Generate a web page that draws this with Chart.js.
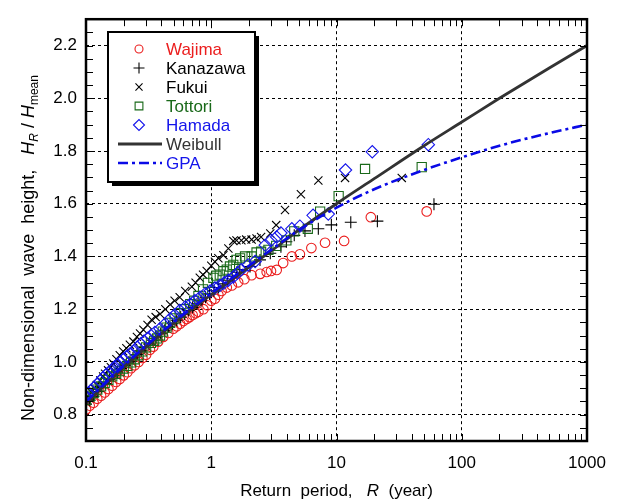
<!DOCTYPE html>
<html>
<head>
<meta charset="utf-8">
<script src="https://cdn.jsdelivr.net/npm/chart.js@4.4.0/dist/chart.umd.min.js"></script>
<style>
  html, body { margin: 0; padding: 0; background: #fff; }
</style>
</head>
<body>
<canvas id="chart" width="618" height="502"></canvas>
<script>
// tick labels
const xTicks = [0.1, 1, 10, 100, 1000];
const yTicks = [0.8, 1.0, 1.2, 1.4, 1.6, 1.8, 2.0, 2.2];

// [return period R (year), H_R / H_mean]
const wajima = [[0.1,0.82],[0.107,0.834],[0.115,0.845],[0.123,0.86],[0.132,0.872],[0.141,0.884],[0.151,0.897],[0.162,0.91],[0.174,0.924],[0.186,0.935],
  [0.2,0.949],[0.214,0.961],[0.229,0.976],[0.245,0.987],[0.263,1.0],[0.282,1.015],[0.302,1.027],[0.324,1.046],[0.345,1.058],[0.377,1.077],
  [0.414,1.095],[0.454,1.11],[0.498,1.126],[0.53,1.135],[0.564,1.145],[0.6,1.155],[0.636,1.163],[0.67,1.17],[0.71,1.178],[0.75,1.185],
  [0.79,1.19],[0.866,1.2],[0.93,1.215],[1.0,1.232],[1.07,1.24],[1.14,1.255],[1.21,1.269],[1.33,1.282],[1.46,1.29],[1.64,1.302],
  [1.84,1.314],[2.1,1.329],[2.46,1.334],[2.77,1.341],[3.0,1.345],[3.33,1.349],[3.75,1.375],[4.4,1.4],[5.1,1.408],[6.3,1.432],
  [8.1,1.452],[11.5,1.459],[18.8,1.549],[52.5,1.571]];
const kanazawa = [[0.1,0.84],[0.107,0.855],[0.115,0.87],[0.124,0.888],[0.133,0.903],[0.143,0.918],[0.154,0.934],[0.165,0.948],[0.178,0.962],[0.19,0.975],
  [0.205,0.988],[0.22,1.0],[0.237,1.015],[0.255,1.028],[0.275,1.042],[0.295,1.055],[0.318,1.068],[0.342,1.082],[0.368,1.095],[0.395,1.107],
  [0.425,1.12],[0.457,1.133],[0.49,1.145],[0.53,1.158],[0.57,1.17],[0.61,1.182],[0.66,1.195],[0.71,1.207],[0.77,1.22],[0.83,1.232],
  [0.9,1.245],[0.97,1.258],[1.05,1.27],[1.14,1.282],[1.24,1.296],[1.35,1.31],[1.47,1.325],[1.6,1.34],[1.69,1.35],[2.04,1.362],
  [2.45,1.387],[2.96,1.412],[3.6,1.437],[3.98,1.456],[4.6,1.48],[5.6,1.497],[7.16,1.505],[9.1,1.52],[13.0,1.53],[21.2,1.534],[60,1.598]];
const fukui = [[0.1,0.86],[0.104,0.87],[0.11,0.885],[0.116,0.9],[0.122,0.912],[0.13,0.93],[0.137,0.945],[0.142,0.955],[0.15,0.968],[0.158,0.98],
  [0.165,0.994],[0.175,1.01],[0.186,1.025],[0.198,1.04],[0.21,1.052],[0.224,1.065],[0.239,1.077],[0.255,1.095],[0.27,1.108],[0.287,1.122],
  [0.31,1.14],[0.334,1.16],[0.36,1.17],[0.39,1.182],[0.43,1.2],[0.47,1.218],[0.51,1.232],[0.56,1.245],[0.62,1.269],[0.7,1.285],
  [0.75,1.3],[0.81,1.319],[0.86,1.331],[0.92,1.345],[1.0,1.365],[1.07,1.38],[1.14,1.393],[1.25,1.405],[1.37,1.43],[1.5,1.459],
  [1.59,1.461],[1.74,1.461],[1.9,1.464],[2.1,1.464],[2.3,1.468],[2.5,1.474],[2.96,1.487],[3.3,1.519],[3.88,1.576],[5.2,1.636],
  [7.16,1.688],[11.7,1.698],[33.2,1.698]];
const tottori = [[0.1,0.855],[0.107,0.868],[0.115,0.882],[0.123,0.895],[0.132,0.907],[0.141,0.92],[0.151,0.932],[0.162,0.945],[0.174,0.955],[0.186,0.965],
  [0.2,0.975],[0.214,0.985],[0.229,0.998],[0.245,1.01],[0.263,1.025],[0.282,1.04],[0.302,1.055],[0.33,1.072],[0.35,1.08],[0.37,1.089],
  [0.39,1.1],[0.41,1.115],[0.44,1.13],[0.47,1.148],[0.51,1.165],[0.56,1.185],[0.61,1.2],[0.68,1.219],[0.73,1.232],[0.79,1.25],
  [0.86,1.275],[0.94,1.3],[1.04,1.319],[1.1,1.327],[1.17,1.331],[1.25,1.344],[1.33,1.35],[1.41,1.362],[1.5,1.368],[1.59,1.387],
  [1.7,1.393],[1.86,1.4],[2.1,1.4],[2.3,1.415],[2.5,1.418],[2.86,1.425],[3.3,1.44],[3.98,1.461],[4.6,1.495],[5.9,1.505],
  [7.4,1.57],[10.4,1.629],[16.9,1.732],[47.9,1.739]];
const hamada = [[0.1,0.87],[0.105,0.882],[0.11,0.892],[0.116,0.903],[0.123,0.915],[0.13,0.928],[0.137,0.94],[0.145,0.952],[0.153,0.962],[0.162,0.972],
  [0.17,0.982],[0.178,0.99],[0.188,1.0],[0.199,1.01],[0.21,1.02],[0.224,1.03],[0.24,1.04],[0.256,1.055],[0.273,1.068],[0.29,1.078],
  [0.31,1.089],[0.33,1.1],[0.355,1.112],[0.39,1.126],[0.43,1.145],[0.47,1.163],[0.51,1.178],[0.56,1.195],[0.62,1.208],[0.68,1.219],
  [0.74,1.232],[0.81,1.244],[0.89,1.258],[0.98,1.269],[1.07,1.28],[1.17,1.29],[1.27,1.3],[1.37,1.31],[1.5,1.322],[1.62,1.337],
  [1.74,1.35],[1.97,1.368],[2.24,1.381],[2.7,1.443],[3.0,1.461],[3.33,1.474],[3.6,1.489],[4.4,1.505],[5.1,1.515],[6.5,1.556],
  [8.6,1.561],[11.8,1.728],[19.3,1.797],[54.1,1.824]];

// fitted distributions
const curveR = [0.1, 0.2, 0.3, 0.5, 1, 2, 3, 5, 10, 20, 50, 100, 200, 500, 1000];
const weibullH = [0.843, 0.98, 1.055, 1.145, 1.255, 1.36, 1.42, 1.5, 1.6, 1.695, 1.82, 1.91, 2.0, 2.115, 2.2];
const gpaH = [0.85, 0.985, 1.06, 1.15, 1.26, 1.365, 1.425, 1.5, 1.585, 1.655, 1.728, 1.776, 1.82, 1.868, 1.9];

const FONT = '"Liberation Sans", Arial, sans-serif';
const RED = 'rgb(235,30,30)', GREEN = 'rgb(25,105,25)', BLUE = 'rgb(20,20,235)', BLACK = '#000';

const toXY = rows => rows.map(r => ({x: r[0], y: r[1]}));
const curve = hs => curveR.map((r, i) => ({x: r, y: hs[i]}));

function stationSet(label, rows, color, style, radius, legendRadius, order) {
  return {
    label, data: toXY(rows), showLine: false, order,
    pointStyle: style, pointRadius: radius, pointBorderWidth: 1.1,
    pointBorderColor: color, pointBackgroundColor: 'rgba(0,0,0,0)',
    borderColor: color, textColor: color, legendRadius
  };
}

const datasets = [
  {label: 'GPA', data: curve(gpaH), type: 'line', showLine: true, order: 0,
   borderColor: 'rgb(10,10,230)', borderWidth: 2.6, borderDash: [10, 4, 3, 4],
   pointRadius: 0, fill: false, cubicInterpolationMode: 'monotone', textColor: 'rgb(20,20,235)'},
  {label: 'Weibull', data: curve(weibullH), type: 'line', showLine: true, order: 0,
   borderColor: '#333', borderWidth: 2.8, pointRadius: 0, fill: false,
   cubicInterpolationMode: 'monotone', textColor: '#333'},
  stationSet('Hamada', hamada, BLUE, 'rectRot', 6.2, 5.5, 1),
  stationSet('Tottori', tottori, GREEN, 'rect', 6.5, 5.5, 2),
  stationSet('Fukui', fukui, BLACK, 'crossRot', 5.8, 5, 3),
  stationSet('Kanazawa', kanazawa, BLACK, 'cross', 6, 5.5, 4),
  stationSet('Wajima', wajima, RED, 'circle', 4.8, 4, 5)
];

const legendOrder = ['Wajima', 'Kanazawa', 'Fukui', 'Tottori', 'Hamada', 'Weibull', 'GPA'];

const framePlugin = {
  id: 'frame',
  afterDraw(chart) {
    const {ctx, chartArea: a, scales: {x, y}} = chart;
    ctx.save();
    // inward minor/major ticks on all four sides
    ctx.strokeStyle = '#000';
    ctx.lineWidth = 1;
    ctx.beginPath();
    const tl = 7;
    for (let d = 0.1; d < 1000; d *= 10) {
      for (let m = 1; m < 10; m++) {
        const px = Math.round(x.getPixelForValue(d * m)) + 0.5;
        ctx.moveTo(px, a.bottom); ctx.lineTo(px, a.bottom - tl);
        ctx.moveTo(px, a.top); ctx.lineTo(px, a.top + tl);
      }
    }
    for (let k = 15; k <= 45; k++) {
      const py = Math.round(y.getPixelForValue(k * 0.05)) + 0.5;
      ctx.moveTo(a.left, py); ctx.lineTo(a.left + tl, py);
      ctx.moveTo(a.right, py); ctx.lineTo(a.right - tl, py);
    }
    ctx.stroke();
    // plot frame
    ctx.lineWidth = 2.5;
    ctx.strokeRect(a.left, a.top, a.right - a.left, a.bottom - a.top);

    // legend box with shadow
    const bx = 108, by = 32, bw = 147, bh = 150;
    ctx.fillStyle = '#000';
    ctx.fillRect(bx + 4, by + 4, bw, bh);
    ctx.fillStyle = '#fff';
    ctx.fillRect(bx, by, bw, bh);
    ctx.lineWidth = 2;
    ctx.strokeRect(bx, by, bw, bh);
    ctx.font = '17px ' + FONT;
    ctx.textBaseline = 'middle';
    ctx.textAlign = 'left';
    legendOrder.forEach((name, i) => {
      const ds = chart.data.datasets.find(d => d.label === name);
      const ly = by + 17 + i * 19;
      if (ds.showLine) {
        ctx.save();
        ctx.strokeStyle = ds.borderColor;
        ctx.lineWidth = ds.borderWidth;
        ctx.setLineDash(ds.borderDash || []);
        ctx.beginPath();
        ctx.moveTo(bx + 10, ly); ctx.lineTo(bx + 54, ly);
        ctx.stroke();
        ctx.restore();
      } else {
        ctx.save();
        ctx.strokeStyle = ds.pointBorderColor;
        ctx.fillStyle = 'rgba(0,0,0,0)';
        ctx.lineWidth = 1.1;
        Chart.helpers.drawPoint(ctx, {pointStyle: ds.pointStyle, radius: ds.legendRadius, rotation: 0, borderWidth: 1.1}, bx + 31, ly);
        ctx.restore();
      }
      ctx.fillStyle = ds.textColor;
      ctx.fillText(name, bx + 58, ly + 1);
    });

    // axis titles
    ctx.fillStyle = '#000';
    drawRich(ctx, [
      {t: 'Return  period,   ', f: '17px ' + FONT},
      {t: 'R', f: 'italic 17px ' + FONT},
      {t: '  (year)', f: '17px ' + FONT}
    ], (a.left + a.right) / 2, 496, 0);
    drawRich(ctx, [
      {t: 'Non-dimensional  wave  height,   ', f: '18px ' + FONT},
      {t: 'H', f: 'italic 18px ' + FONT},
      {t: 'R', f: 'italic 12px ' + FONT, dy: 4},
      {t: ' / ', f: '18px ' + FONT},
      {t: 'H', f: 'italic 18px ' + FONT},
      {t: 'mean', f: '12px ' + FONT, dy: 4}
    ], 34, 248, -Math.PI / 2);
    ctx.restore();
  }
};

function drawRich(ctx, parts, cx, cy, rot) {
  ctx.save();
  ctx.translate(cx, cy);
  ctx.rotate(rot);
  ctx.textBaseline = 'alphabetic';
  ctx.textAlign = 'left';
  let w = 0;
  parts.forEach(p => { ctx.font = p.f; p.w = ctx.measureText(p.t).width; w += p.w; });
  let xx = -w / 2;
  parts.forEach(p => {
    ctx.font = p.f;
    ctx.fillText(p.t, xx, p.dy || 0);
    xx += p.w;
  });
  ctx.restore();
}

new Chart(document.getElementById('chart'), {
  type: 'scatter',
  data: {datasets},
  options: {
    responsive: false,
    animation: false,
    layout: {padding: {left: 0, right: 31, top: 11, bottom: 0}},
    plugins: {legend: {display: false}, tooltip: {enabled: false}},
    scales: {
      x: {
        type: 'logarithmic', min: 0.1, max: 1000,
        afterBuildTicks: s => { s.ticks = xTicks.map(v => ({value: v})); },
        afterFit: s => { s.height = 61; },
        grid: {color: '#000', lineWidth: 1, drawTicks: false},
        border: {display: false, dash: [3, 3]},
        ticks: {color: '#000', font: {family: FONT, size: 17}, padding: 12,
                maxRotation: 0, autoSkip: false, callback: v => String(v)}
      },
      y: {
        type: 'linear', min: 0.7, max: 2.3,
        afterBuildTicks: s => { s.ticks = yTicks.map(v => ({value: v})); },
        afterFit: s => { s.width = 86; },
        grid: {color: '#000', lineWidth: 1, drawTicks: false},
        border: {display: false, dash: [3, 3]},
        ticks: {color: '#000', font: {family: FONT, size: 17}, padding: 9,
                callback: v => v.toFixed(1)}
      }
    }
  },
  plugins: [framePlugin]
});
</script>
</body>
</html>
